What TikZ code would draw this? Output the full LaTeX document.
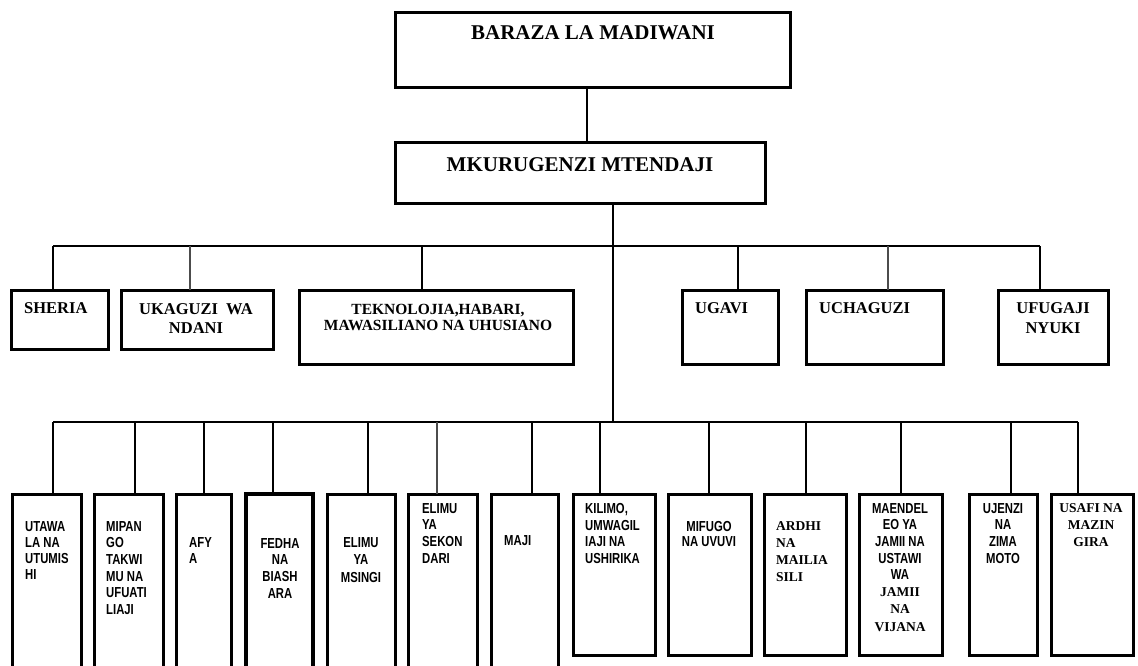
\documentclass[tikz,border=0pt]{standalone}
\usepackage{fontspec}
\setmainfont{Liberation Serif}
\newfontfamily\nsans[FakeStretch=0.78]{Liberation Sans}
\tikzset{
  box/.style={draw, line width=3pt, inner sep=0pt, outer sep=0pt, anchor=north west},
  thickbox/.style={box, line width=4pt},
  conn/.style={line width=2.4pt},
  thinconn/.style={line width=1.6pt, black!70},
  bus/.style={line width=2.6pt},
  tl/.style={anchor=north west, align=left, inner sep=0pt},
  tc/.style={anchor=north, align=center, inner sep=0pt},
  title/.style={inner sep=0pt, font=\bfseries\fontsize{21}{24}\selectfont},
  mid/.style={font=\bfseries\fontsize{16.5}{19}\selectfont},
  sansf/.style={font=\nsans\bfseries\fontsize{14.5}{16.7}\selectfont},
  serf/.style={font=\bfseries\fontsize{13.5}{17}\selectfont},
}
\newcommand{\mybox}[6][box]{%
  \node[#1, minimum width={(#5-#3)*1pt}, minimum height={(#6-#4)*1pt}] (#2) at (#3,#4) {};}
\begin{document}
\begin{tikzpicture}[x=1pt,y=-1pt]
\useasboundingbox (0,0) rectangle (1138,666);
\clip (0,0) rectangle (1138,666);
% top boxes
\mybox{baraza}{395}{13}{790}{88}
\mybox{mk}{395}{143}{765}{203}
\node[title] (tbaraza) at (593,33) {BARAZA LA MADIWANI};
\node[title] (tmk) at (580,165) {MKURUGENZI MTENDAJI};
% middle boxes
\mybox{sheria}{11}{290}{108}{349}
\mybox{ukaguzi}{121}{290}{273}{349}
\mybox{tekno}{299}{290}{573}{364}
\mybox{ugavi}{682}{290}{778}{364}
\mybox{uchaguzi}{806}{290}{943}{364}
\mybox{ufugaji}{998}{290}{1108}{364}
% lower boxes
\mybox{utawala}{12}{494}{81}{700}
\mybox{mipango}{94}{494}{163}{700}
\mybox{afya}{176}{494}{231}{700}
\mybox[thickbox]{fedha}{246}{494}{313}{700}
\mybox{msingi}{327}{494}{395}{700}
\mybox{sekondari}{408}{494}{477}{700}
\mybox{maji}{491}{494}{558}{700}
\mybox{kilimo}{573}{494}{655}{655}
\mybox{mifugo}{668}{494}{751}{655}
\mybox{ardhi}{764}{494}{846}{655}
\mybox{maendeleo}{859}{494}{942}{655}
\mybox{ujenzi}{969}{494}{1037}{655}
\mybox{usafi}{1051}{494}{1133}{655}
% connectors
\coordinate (c1) at (587,0);
\draw[conn] (c1 |- baraza.south) -- (c1 |- mk.north);
\coordinate (ubusL) at (53,246);
\coordinate (ubusR) at (1040,246);
\coordinate (lbusL) at (53,422);
\coordinate (lbusR) at (1078,422);
\coordinate (trunk) at (613,0);
\draw[bus] (trunk |- mk.south) -- (trunk |- lbusL);
\draw[bus] (ubusL) -- (ubusR);
\draw[bus] (lbusL) -- (lbusR);
\foreach \x/\n/\s in {53/sheria/conn,190/ukaguzi/thinconn,422/tekno/conn,738/ugavi/conn,888/uchaguzi/thinconn,1040/ufugaji/conn}{
  \coordinate (tmp) at (\x,246);
  \draw[\s] (tmp) -- (tmp |- \n.north);
}
\foreach \x/\n/\s in {53/utawala/conn,135/mipango/conn,204/afya/conn,273/fedha/conn,368/msingi/conn,437/sekondari/thinconn,532/maji/conn,600/kilimo/conn,709/mifugo/conn,806/ardhi/conn,901/maendeleo/conn,1011/ujenzi/conn,1078/usafi/conn}{
  \coordinate (tmp) at (\x,422);
  \draw[\s] (tmp) -- (tmp |- \n.north);
}
% middle texts
\node[tl, mid] (tsheria) at (24,302.5) {SHERIA};
\node[tc, mid] (tukaguzi) at (196,303.5) {UKAGUZI\ \ WA\\NDANI};
\node[tc, font=\bfseries\fontsize{15.5}{15.5}\selectfont] (ttekno) at (438,304.5) {TEKNOLOJIA,HABARI,\\MAWASILIANO NA UHUSIANO};
\node[tl, mid] (tugavi) at (695,302.5) {UGAVI};
\node[tl, mid] (tuchaguzi) at (819,302.5) {UCHAGUZI};
\node[tc, font=\bfseries\fontsize{16.5}{20}\selectfont] (tufugaji) at (1053,302.5) {UFUGAJI\\NYUKI};
% lower texts
\node[tl, font=\nsans\bfseries\fontsize{14.5}{16}\selectfont] (tutawala) at (25,521) {UTAWA\\LA NA\\UTUMIS\\HI};
\node[tl, sansf] (tmipango) at (106,521) {MIPAN\\GO\\TAKWI\\MU NA\\UFUATI\\LIAJI};
\node[tl, sansf] (tafya) at (189,537) {AFY\\A};
\node[tc, sansf] (tfedha) at (280,538) {FEDHA\\NA\\BIASH\\ARA};
\node[tc, font=\nsans\bfseries\fontsize{14.5}{17.5}\selectfont] (tmsingi) at (361,537) {ELIMU\\YA\\MSINGI};
\node[tl, sansf] (tsekondari) at (422,503) {ELIMU\\YA\\SEKON\\DARI};
\node[tl, sansf] (tmaji) at (504,535) {MAJI};
\node[tl, sansf] (tkilimo) at (585,503) {KILIMO,\\UMWAGIL\\IAJI NA\\USHIRIKA};
\node[tc, font=\nsans\bfseries\fontsize{14.5}{15}\selectfont] (tmifugo) at (709,521) {MIFUGO\\NA UVUVI};
\node[tl, serf] (tardhi) at (776,521) {ARDHI\\NA\\MAILIA\\SILI};
\node[tc, sansf] (tmaendeleo) at (900,503) {MAENDEL\\EO YA\\JAMII NA\\USTAWI\\WA};
\node[tc, font=\bfseries\fontsize{13.5}{17.5}\selectfont] (tmaendeleo2) at (900,587) {JAMII\\NA\\VIJANA};
\node[tc, sansf] (tujenzi) at (1003,503) {UJENZI\\NA\\ZIMA\\MOTO};
\node[tc, serf] (tusafi) at (1091,503) {USAFI NA\\MAZIN\\GIRA};
\end{tikzpicture}
\end{document}
